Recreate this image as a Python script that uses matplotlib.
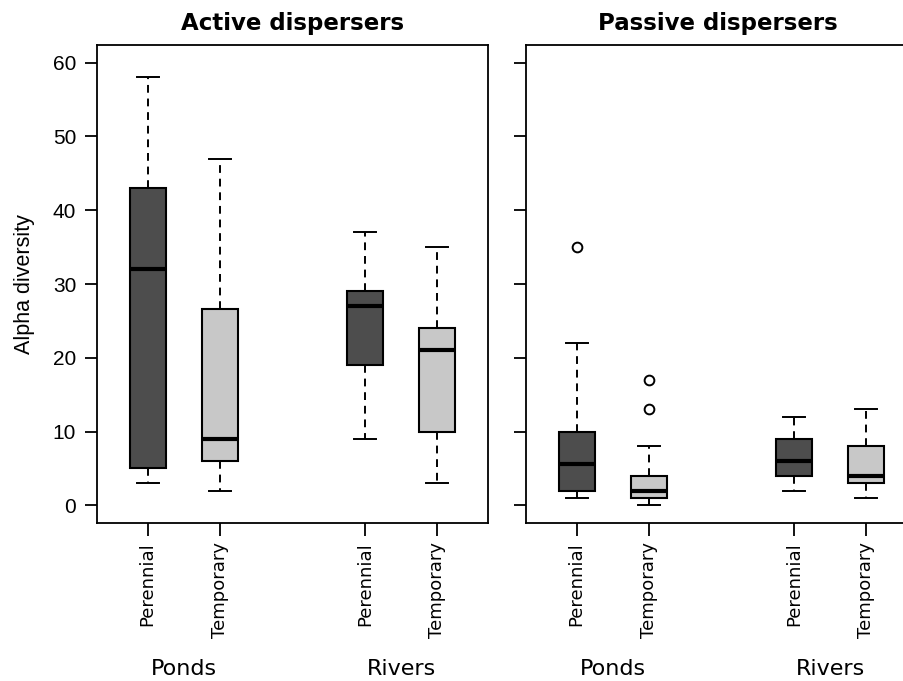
import matplotlib
matplotlib.use("Agg")
from matplotlib import pyplot as plt

# box statistics: low whisker, Q1, median, Q3, high whisker, outliers
groups = ["Perennial", "Temporary", "Perennial", "Temporary"]
habitats = ["Ponds", "Rivers"]
titles = ["Active dispersers", "Passive dispersers"]

active_low = [3, 2, 9, 3]
active_q1 = [5, 6, 19, 10]
active_med = [32, 9, 27, 21]
active_q3 = [43, 26.6, 29, 24]
active_high = [58, 47, 37, 35]
active_out = [[], [], [], []]

passive_low = [1, 0, 2, 1]
passive_q1 = [2, 1, 4, 3]
passive_med = [5.6, 2, 6, 4]
passive_q3 = [10, 4, 9, 8]
passive_high = [22, 8, 12, 13]
passive_out = [[35], [17, 13], [], []]

colors = ["#4d4d4d", "#c8c8c8", "#4d4d4d", "#c8c8c8"]
positions = [1, 2, 4, 5]

W, H = 904, 681
fig = plt.figure(figsize=(W / 100, H / 100), dpi=100)


def make_stats(low, q1, med, q3, high, out):
    stats = []
    for i in range(len(low)):
        stats.append({"whislo": low[i], "q1": q1[i], "med": med[i], "q3": q3[i],
                      "whishi": high[i], "fliers": out[i]})
    return stats


def draw_panel(ax, stats, title, ylabels=True):
    bp = ax.bxp(stats, positions=positions, widths=0.5, capwidths=0.3,
                patch_artist=True, showfliers=True,
                whiskerprops=dict(color="black", linewidth=1.4, linestyle=(0, (4, 3))),
                capprops=dict(color="black", linewidth=1.4),
                medianprops=dict(color="black", linewidth=3, solid_capstyle="butt"),
                boxprops=dict(edgecolor="black", linewidth=1.5),
                flierprops=dict(marker="o", markersize=7, markerfacecolor="white",
                                markeredgecolor="black", markeredgewidth=1.4))
    for patch, c in zip(bp["boxes"], colors):
        patch.set_facecolor(c)
    ax.set_xlim(0.3, 5.7)
    ax.set_ylim(-2.4, 62.4)
    ax.set_yticks([0, 10, 20, 30, 40, 50, 60])
    ax.set_xticks(positions)
    ax.set_xticklabels(groups, rotation=90, fontsize=13, family="DejaVu Sans")
    ax.tick_params(axis="both", length=9, width=1.3, direction="out", pad=5)
    ax.tick_params(axis="y", labelsize=15, pad=6)
    if not ylabels:
        ax.set_yticklabels([])
    else:
        for lab in ax.get_yticklabels():
            lab.set_family("Liberation Sans")
    for sp in ax.spines.values():
        sp.set_linewidth(1.3)
    ax.set_title(title, fontsize=16.5, fontweight="bold", family="DejaVu Sans", pad=11)
    for x, name in zip([1.5, 4.5], habitats):
        ax.text(x, -0.305, name, transform=ax.get_xaxis_transform(), ha="center",
                va="center", fontsize=16, family="DejaVu Sans")


ax1 = fig.add_axes([97 / W, (H - 523) / H, 391 / W, 478 / H])
draw_panel(ax1, make_stats(active_low, active_q1, active_med, active_q3, active_high, active_out),
           titles[0])
ax1.set_ylabel("Alpha diversity", fontsize=15.5, family="Liberation Sans", labelpad=13)

ax2 = fig.add_axes([526 / W, (H - 523) / H, 391 / W, 478 / H])
draw_panel(ax2, make_stats(passive_low, passive_q1, passive_med, passive_q3, passive_high, passive_out),
           titles[1], ylabels=False)
ax2.title.set_position((0.49, 1.0))

fig.savefig("out.png", dpi=100, facecolor="white")
